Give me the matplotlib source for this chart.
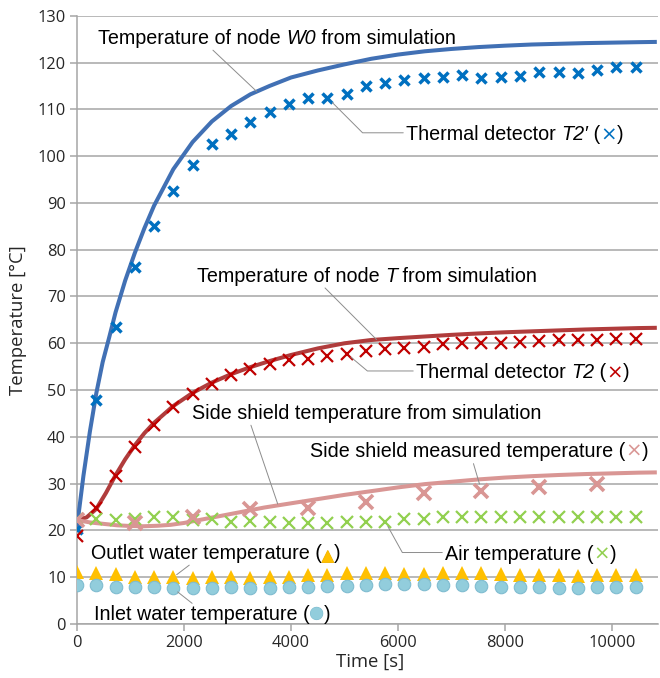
import numpy as np
import matplotlib.pyplot as plt
from matplotlib import patheffects

# measured values, one reading every 360 s
time_meas = [0, 360, 720, 1080, 1440, 1800, 2160, 2520, 2880, 3240,
             3600, 3960, 4320, 4680, 5040, 5400, 5760, 6120, 6480, 6840,
             7200, 7560, 7920, 8280, 8640, 9000, 9360, 9720, 10080, 10440]
t2_prime = [20.4, 47.9, 63.4, 76.3, 85.0, 92.5, 98.1, 102.5, 104.8, 107.3,
            109.5, 111.1, 112.5, 112.5, 113.2, 115.0, 115.7, 116.2, 116.7, 116.9,
            117.3, 116.7, 116.9, 117.1, 117.9, 118.0, 117.7, 118.5, 119.1, 119.1]
t2 = [18.8, 24.7, 31.6, 37.9, 42.5, 46.4, 49.1, 51.4, 53.3, 54.4,
      55.5, 56.4, 56.6, 57.3, 57.8, 58.4, 58.7, 58.9, 59.3, 59.8,
      60.0, 60.1, 60.1, 60.3, 60.5, 60.7, 60.7, 60.8, 60.9, 61.0]
air = [22.4, 22.4, 22.2, 22.4, 22.9, 22.9, 22.3, 22.4, 21.9, 22.0,
       21.9, 21.5, 21.5, 21.5, 21.9, 21.9, 21.9, 22.4, 22.4, 22.9,
       22.9, 22.9, 22.9, 22.9, 22.9, 22.9, 22.9, 22.9, 22.9, 22.9]
outlet = [11.2, 10.8, 10.6, 10.0, 10.0, 10.0, 9.8, 10.0, 10.1, 9.8,
          10.0, 10.1, 10.5, 10.5, 10.8, 10.9, 10.9, 10.7, 10.7, 10.8,
          10.8, 10.8, 10.7, 10.5, 10.5, 10.5, 10.3, 10.5, 10.5, 10.5]
inlet = [8.3, 8.3, 8.0, 7.9, 7.9, 7.6, 7.6, 7.6, 7.9, 7.6,
         7.6, 7.9, 8.0, 8.1, 8.1, 8.3, 8.5, 8.5, 8.5, 8.3,
         8.3, 8.1, 8.0, 7.9, 7.9, 7.6, 7.6, 7.9, 7.9, 8.0]

# side shield measurement, every 1080 s
time_shield = [0, 1080, 2160, 3240, 4320, 5400, 6480, 7560, 8640, 9720]
shield_meas = [22.2, 21.5, 22.9, 24.6, 24.9, 26.1, 28.1, 28.5, 29.3, 29.9]

# simulation curves
time_w0 = [0, 120, 240, 360, 480, 600, 720, 900, 1080, 1260, 1440, 1800, 2160,
           2520, 2880, 3240, 3600, 4000, 4500, 5000, 5500, 6000, 6500, 7000,
           7500, 8000, 8500, 9000, 9500, 10000, 10500, 10800]
sim_w0 = [20.8, 31.7, 41.1, 49.3, 56.0, 61.2, 66.6, 73.4, 79.3, 84.6, 89.4, 97.2, 103.0,
          107.4, 110.7, 113.2, 115.0, 116.8, 118.3, 119.6, 120.8, 121.7, 122.4, 122.9,
          123.3, 123.6, 123.85, 124.0, 124.15, 124.25, 124.35, 124.4]

time_t = [0, 180, 360, 540, 720, 900, 1080, 1260, 1440, 1800, 2160, 2520, 2880,
          3240, 3600, 4000, 4500, 5000, 5500, 6000, 6500, 7000, 7500, 8000,
          8500, 9000, 9500, 10000, 10500, 10800]
sim_t = [22.2, 22.8, 24.6, 28.0, 31.8, 35.2, 38.2, 40.8, 43.0, 46.6, 49.4, 51.6, 53.4,
         54.9, 56.2, 57.5, 58.9, 60.0, 60.7, 61.1, 61.45, 61.8, 62.1, 62.35,
         62.55, 62.75, 62.95, 63.1, 63.25, 63.3]

time_ss = [0, 250, 500, 750, 1000, 1250, 1500, 1750, 2000, 2500, 3000, 3500, 4000,
           4500, 5000, 5500, 6000, 6500, 7000, 7500, 8000, 8500, 9000, 9500,
           10000, 10500, 10800]
sim_ss = [22.2, 21.7, 21.4, 21.1, 20.95, 20.9, 21.0, 21.2, 21.6, 22.7, 23.8, 24.9, 25.8,
          26.7, 27.6, 28.4, 29.2, 29.9, 30.4, 30.9, 31.3, 31.6, 31.85, 32.05,
          32.2, 32.35, 32.4]

ANNO_FONT = ["Liberation Sans", "DejaVu Sans"]
SYMB_FONT = ["DejaVu Sans"]
AXIS_FONT = ["Open Sans", "DejaVu Sans"]
ANNO_SIZE = 14.2
LEAD = "#8c8c8c"

fig = plt.figure(figsize=(6.6, 6.78), dpi=100)
ax = fig.add_axes([0.1167, 0.0796, 0.8803, 0.8972])

ax.plot(time_w0, sim_w0, color="#4170b4", lw=2.9, zorder=3)
ax.plot(time_t, sim_t, color="#b03c3c", lw=2.9, zorder=3)
ax.plot(time_ss, sim_ss, color="#d99694", lw=2.9, zorder=3)

ax.plot(time_meas, t2_prime, "x", color="#0070c0", ms=7.5, mew=2.5, zorder=4)
ax.plot(time_meas, t2, "x", color="#c00000", ms=8, mew=1.6, zorder=4)
ax.plot(time_meas, outlet, "^", color="#ffc000", ms=9.5, mew=0, zorder=4)
ax.plot(time_meas, inlet, "o", color="#92cddc", mec="#7fbcd0", ms=9, mew=0.8, zorder=4)
ax.plot(time_meas, air, "x", color="#92d050", ms=8, mew=1.6, zorder=5)
ax.plot(time_shield, shield_meas, "x", color="#d99694", ms=10.5, mew=2.6, zorder=6)

ax.set_xlim(0, 10860)
ax.set_ylim(0, 130)
ax.set_xticks([0, 2000, 4000, 6000, 8000, 10000])
ax.set_yticks(np.arange(0, 131, 10))
ax.yaxis.grid(True, color="#a6a6a6", lw=1.1)
ax.set_axisbelow(True)
for side in ["top", "right"]:
    ax.spines[side].set_visible(False)
for side in ["left", "bottom"]:
    ax.spines[side].set_color("#a6a6a6")
    ax.spines[side].set_linewidth(1.1)
ax.tick_params(direction="out", length=5, width=1.1, color="#a6a6a6",
               labelcolor="#262626", labelsize=11.8, pad=3)
for lab in ax.get_xticklabels() + ax.get_yticklabels():
    lab.set_family(AXIS_FONT)

fig.text(18 / 660, 1 - 320 / 678, "Temperature [°C]", rotation=90, ha="center",
         va="center", family=AXIS_FONT, fontsize=13.3, color="#262626")
fig.text(370 / 660, 1 - 662 / 678, "Time [s]", ha="center", va="center",
         family=AXIS_FONT, fontsize=13.3, color="#262626")

SYMBOL_EDGE = {"▲": "#f0b000", "●": "#7fbcd0"}
SYMBOL_SIZE = {"▲": 11, "●": 11.5}
SYMBOL_RAISE = {"●": 2.5}


def label(pos, parts, xy=None, relpos=(0, 0.6), conn="arc3", shrinkB=2):
    """Write a label piece by piece, then draw its leader from the first piece."""
    first = prev = None
    last_raise = 0
    for txt, color, style in parts:
        symbol = txt in ("×", "▲", "●")
        kw = dict(color=color, style=style, family=SYMB_FONT if symbol else ANNO_FONT,
                  fontsize=SYMBOL_SIZE.get(txt, ANNO_SIZE), ha="left", zorder=7)
        if prev is None:
            prev = ax.text(pos[0], pos[1], txt, va="baseline", **kw)
            first = prev
        else:
            rise = SYMBOL_RAISE.get(txt, 0)
            prev = ax.annotate(txt, xy=(1, 0), xycoords=prev, xytext=(0, rise - last_raise),
                               textcoords="offset points", va="bottom", **kw)
            last_raise = rise
        if txt in SYMBOL_EDGE:
            prev.set_path_effects([patheffects.withStroke(linewidth=0.8,
                                                          foreground=SYMBOL_EDGE[txt])])
    if xy is not None:
        ax.annotate("", xy=xy, xycoords="data", xytext=relpos, textcoords=first,
                    arrowprops=dict(arrowstyle="-", color=LEAD, lw=0.7, shrinkA=2,
                                    shrinkB=shrinkB, connectionstyle=conn), zorder=6)


K = "black"
label((393, 123.9),
      [("Temperature of node ", K, "normal"), ("W0", K, "italic"),
       (" from simulation", K, "normal")],
      xy=(3360, np.interp(3360, time_w0, sim_w0)), relpos=(0.6, 0), shrinkB=0)
label((6150, 103.4),
      [("Thermal detector ", K, "normal"), ("T2′", K, "italic"), (" (", K, "normal"),
       ("×", "#0070c0", "normal"), (")", K, "normal")],
      xy=(time_meas[13], t2_prime[13]), conn="angle,angleA=0,angleB=-45,rad=0", shrinkB=5)
label((2243, 73.1),
      [("Temperature of node ", K, "normal"), ("T", K, "italic"),
       (" from simulation", K, "normal")],
      xy=(5600, np.interp(5600, time_t, sim_t)), relpos=(0.67, 0), shrinkB=0)
label((6336, 52.5),
      [("Thermal detector ", K, "normal"), ("T2", K, "italic"), (" (", K, "normal"),
       ("×", "#c00000", "normal"), (")", K, "normal")],
      xy=(time_meas[14], t2[14]), conn="angle,angleA=0,angleB=-40,rad=0", shrinkB=4)
label((2150, 43.9),
      [("Side shield temperature from simulation", K, "normal")],
      xy=(3760, np.interp(3760, time_ss, sim_ss)), relpos=(0.166, 0), shrinkB=1)
label((4355, 35.7),
      [("Side shield measured temperature (", K, "normal"), ("×", "#d99694", "normal"),
       (")", K, "normal")],
      xy=(time_shield[7], shield_meas[7]), relpos=(0.516, 0), shrinkB=5)
label((262, 13.8),
      [("Outlet water temperature (", K, "normal"), ("▲", "#ffc000", "normal"),
       (")", K, "normal")],
      xy=(time_meas[5], outlet[5]), relpos=(0.435, 0), shrinkB=3)
label((318, 0.85),
      [("Inlet water temperature (", K, "normal"), ("●", "#92cddc", "normal"),
       (")", K, "normal")],
      xy=(time_meas[5], inlet[5]), relpos=(0.465, 1), shrinkB=4)
label((6879, 13.7),
      [("Air temperature (", K, "normal"), ("×", "#92d050", "normal"),
       (")", K, "normal")],
      xy=(time_meas[16], air[16]), conn="angle,angleA=0,angleB=-61,rad=0", shrinkB=4)

fig.savefig("out.png", dpi=100)
